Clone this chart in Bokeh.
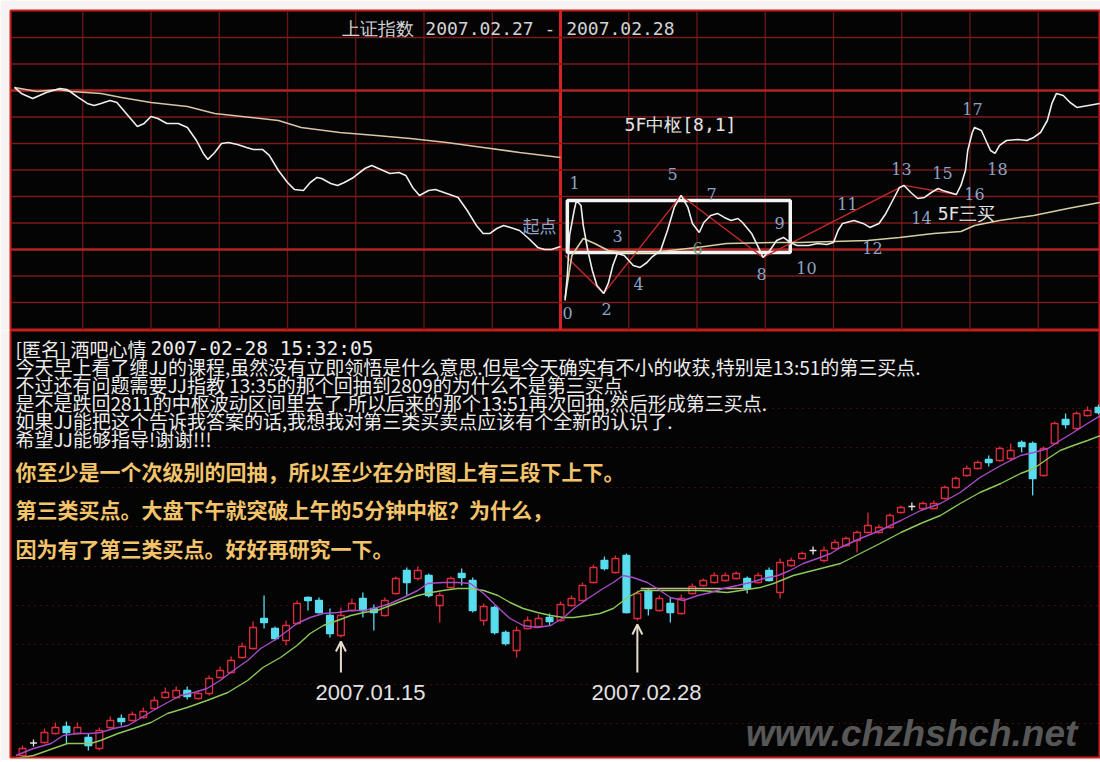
from bokeh.plotting import figure
from bokeh.layouts import column
from bokeh.models import Range1d, Span, Arrow, OpenHead
from bokeh.core.properties import value
from bokeh.embed import file_html
from bokeh.resources import INLINE

# ---------------- intraday data (minutes from 02.27 09:30, index points) ----------------
d1_min = [0, 3, 8, 11, 14, 20, 23, 25, 28, 32, 35, 38, 42, 45, 48, 51, 54, 57, 60, 63,
          67, 72, 76, 80, 83, 85, 88, 91, 94, 98, 102, 105, 109, 112, 116, 120, 123, 127, 130, 133,
          135, 139, 142, 145, 149, 154, 157, 160, 165, 169, 172, 175, 178, 182, 185, 190, 195, 199, 203, 206,
          209, 212, 215, 218, 222, 226, 230, 233, 236, 240]
d1_price = [2895.8, 2891.3, 2887.5, 2889.8, 2892.0, 2895.0, 2894.3, 2892.0, 2888.3, 2883.8,
            2882.3, 2883.8, 2886.0, 2884.5, 2878.5, 2872.5, 2866.5, 2868.8, 2874.0, 2872.5,
            2868.8, 2868.8, 2865.8, 2856.0, 2846.3, 2841.8, 2847.0, 2853.8, 2854.5, 2853.0,
            2850.8, 2849.3, 2849.3, 2844.8, 2833.5, 2824.5, 2819.3, 2818.5, 2824.5, 2828.3,
            2827.5, 2823.8, 2822.3, 2824.5, 2828.3, 2835.0, 2837.3, 2835.0, 2831.3, 2832.0,
            2829.8, 2820.8, 2814.8, 2818.5, 2819.3, 2816.3, 2813.3, 2803.5, 2792.3, 2786.3,
            2786.3, 2790.0, 2792.3, 2790.8, 2788.5, 2782.5, 2775.8, 2774.3, 2774.3, 2776.5]
d1_avg_min = [0, 10, 19, 25, 38, 47, 60, 76, 88, 104, 116, 126, 143, 159, 174, 190, 206, 222, 240]
d1_avg = [2895.8, 2892.8, 2894.3, 2892.8, 2891.3, 2888.3, 2884.5, 2881.5, 2876.3, 2873.3,
          2871.0, 2865.8, 2862.0, 2859.8, 2857.5, 2854.5, 2850.8, 2847.0, 2843.3]

d2_min = [242, 243, 244, 246, 247, 249, 250, 252, 254, 256, 259, 261, 263, 265, 268, 270, 272, 275, 278, 280,
          284, 287, 290, 293, 296, 298, 301, 303, 306, 309, 312, 315, 318, 320, 324, 327, 329, 332, 335, 338,
          341, 344, 349, 353, 357, 360, 362, 364, 369, 373, 376, 380, 383, 386, 389, 391, 394, 397, 400, 403,
          406, 408, 411, 414, 416, 418, 419, 421, 422, 425, 427, 429, 431, 433, 436, 441, 445, 448, 451, 454,
          456, 458, 461, 464, 467, 472, 477]
d2_price = [2736.0, 2754.8, 2784.8, 2803.5, 2811.0, 2807.3, 2792.3, 2773.5, 2758.5, 2747.3,
            2741.3, 2748.8, 2762.3, 2771.3, 2769.8, 2766.0, 2762.3, 2760.8, 2764.5, 2768.3,
            2773.5, 2788.5, 2805.8, 2814.8, 2805.8, 2793.8, 2787.0, 2794.5, 2799.8, 2801.3,
            2798.3, 2796.0, 2797.5, 2794.5, 2786.3, 2775.8, 2768.3, 2773.5, 2781.0, 2783.3,
            2779.5, 2777.3, 2777.3, 2778.8, 2778.0, 2779.5, 2788.5, 2793.8, 2796.0, 2793.8,
            2790.8, 2793.8, 2801.3, 2811.0, 2820.8, 2822.3, 2817.0, 2812.5, 2813.3, 2817.0,
            2820.0, 2818.5, 2817.0, 2815.5, 2822.3, 2833.5, 2848.5, 2862.0, 2865.8, 2863.5,
            2856.0, 2848.5, 2846.3, 2852.3, 2856.0, 2856.8, 2856.0, 2858.3, 2862.0, 2871.0,
            2883.8, 2891.3, 2889.8, 2884.5, 2880.8, 2882.3, 2883.8]
d2_avg_min = [242, 245, 250, 255, 261, 269, 280, 300, 313, 334, 345, 360, 375, 389, 404, 416, 422, 433, 448, 463, 477]
d2_avg = [2737.5, 2769.8, 2782.5, 2778.8, 2773.5, 2772.0, 2772.0, 2775.8, 2778.8, 2779.5,
          2779.5, 2780.3, 2781.0, 2783.3, 2786.3, 2787.8, 2792.3, 2796.0, 2799.8, 2805.0, 2809.5]

# pen (zigzag) vertices: 起点, 2, 5, 8, 13, 16
pen_min = [242, 259, 293, 329, 391, 414]
pen_price = [2770.0, 2741.3, 2814.8, 2768.3, 2822.3, 2815.5]

# 5F 中枢 box
zs_start, zs_end = 243, 341
zs_low, zs_high = 2772.0, 2811.0

point_labels = ["0", "1", "2", "3", "4", "5", "6", "7", "8", "9", "10",
                "11", "12", "13", "14", "15", "16", "17", "18"]

# ---------------- daily candles (index points) ----------------
O = [1932, 2007, 2010, 2064, 2106, 2064, 2040, 1974, 2100, 2154,
     2142, 2160, 2214, 2280, 2280, 2322, 2274, 2304, 2400, 2430,
     2520, 2574, 2754, 2694, 2622, 2724, 2880, 2862, 2772, 2652,
     2802, 2874, 2814, 2772, 2904, 3042, 2994, 3012, 2832, 2940,
     3024, 2982, 2742, 2820, 2670, 2562, 2694, 2706, 2760, 2742,
     2832, 2862, 2970, 3102, 3030, 3132, 2754, 2922, 2802, 2844,
     2784, 2904, 2952, 2970, 2982, 2994, 2994, 2970, 3042, 2910,
     3072, 3114, 3162, 3102, 3174, 3192, 3222, 3270, 3270, 3300,
     3390, 3426, 3414, 3414, 3474, 3540, 3612, 3654, 3708, 3702,
     3714, 3810, 3804, 3612, 3804, 3948, 3894, 3972, 4020]
H = [1992, 2028, 2094, 2130, 2136, 2130, 2064, 2100, 2166, 2178,
     2196, 2220, 2286, 2340, 2346, 2346, 2322, 2412, 2466, 2526,
     2610, 2736, 2892, 2706, 2742, 2862, 2886, 2880, 2814, 2820,
     2874, 2910, 2838, 2880, 3006, 3060, 3066, 3024, 2910, 3006,
     3054, 3000, 2844, 2832, 2682, 2706, 2766, 2778, 2784, 2856,
     2892, 2970, 3078, 3126, 3132, 3144, 2922, 2934, 2892, 2880,
     2898, 2964, 2994, 3030, 3030, 3036, 3006, 3030, 3060, 3114,
     3120, 3156, 3186, 3186, 3228, 3246, 3282, 3390, 3318, 3384,
     3432, 3450, 3456, 3462, 3552, 3606, 3672, 3702, 3732, 3786,
     3804, 3822, 3816, 3786, 3936, 3984, 3996, 4026, 4038]
L = [1920, 1986, 2004, 2058, 2004, 2058, 1962, 1962, 2094, 2112,
     2136, 2154, 2208, 2274, 2274, 2268, 2268, 2292, 2394, 2424,
     2514, 2568, 2694, 2622, 2592, 2718, 2802, 2784, 2640, 2640,
     2796, 2760, 2682, 2766, 2898, 2892, 2982, 2880, 2730, 2934,
     2952, 2790, 2712, 2658, 2592, 2520, 2688, 2700, 2712, 2736,
     2826, 2856, 2964, 3042, 3024, 2784, 2742, 2772, 2796, 2730,
     2778, 2898, 2946, 2964, 2976, 2988, 2904, 2964, 2976, 2874,
     3066, 3108, 3138, 3090, 3168, 3186, 3150, 3264, 3264, 3294,
     3384, 3402, 3408, 3408, 3468, 3534, 3606, 3648, 3666, 3696,
     3702, 3750, 3492, 3606, 3798, 3894, 3882, 3966, 3978]
C = [1974, 2007, 2070, 2100, 2070, 2100, 1992, 2082, 2142, 2136,
     2178, 2196, 2262, 2310, 2322, 2286, 2304, 2394, 2442, 2502,
     2586, 2700, 2730, 2634, 2712, 2844, 2862, 2790, 2664, 2772,
     2844, 2802, 2790, 2862, 2994, 2970, 3042, 2892, 2892, 2994,
     3000, 2802, 2826, 2670, 2604, 2682, 2742, 2754, 2736, 2838,
     2874, 2952, 3060, 3054, 3114, 2790, 2904, 2814, 2874, 2790,
     2874, 2946, 2982, 3012, 3012, 3024, 2934, 3012, 2982, 3090,
     3102, 3144, 3162, 3162, 3210, 3234, 3270, 3312, 3300, 3372,
     3420, 3426, 3444, 3444, 3540, 3594, 3654, 3690, 3690, 3774,
     3762, 3786, 3594, 3774, 3924, 3918, 3984, 4002, 3990]

ma_short_x = [-0.6, 1.0, 2.6, 3.7, 5.0, 6.2, 7.1, 8.3, 9.6, 10.7, 11.9, 13.2, 14.4, 15.6, 16.8, 18.0,
              19.2, 20.5, 21.7, 22.9, 23.8, 25.0, 26.2, 27.4, 28.7, 29.9, 31.1, 32.3, 33.5, 34.7, 36.0,
              36.9, 38.3, 39.6, 40.8, 42.0, 43.3, 44.4, 45.6, 46.9, 48.1, 49.3, 50.2, 51.5, 52.6, 53.8,
              54.7, 55.6, 56.9, 57.8, 59.0, 60.2, 61.5, 62.7, 63.8, 65.1, 66.3, 67.5, 68.8, 69.9, 71.1,
              72.4, 73.6, 74.5, 76.3, 78.1, 80.0, 81.8, 83.6, 85.4, 87.2, 89.1, 90.9, 92.1, 93.4, 94.5,
              95.7, 97.0, 98.2]
ma_short = [1932, 1974, 2004, 2052, 2064, 2064, 2070, 2094, 2112, 2154, 2202, 2250, 2292, 2310, 2334, 2382,
            2442, 2502, 2574, 2622, 2664, 2724, 2760, 2784, 2790, 2802, 2802, 2820, 2844, 2880, 2922,
            2964, 2970, 2970, 2964, 2904, 2820, 2754, 2712, 2700, 2712, 2760, 2814, 2874, 2922, 2970,
            3012, 3000, 2970, 2934, 2880, 2862, 2892, 2910, 2934, 2952, 2970, 2994, 3012, 3042, 3084,
            3114, 3144, 3180, 3234, 3282, 3342, 3402, 3444, 3510, 3600, 3672, 3732, 3750, 3774, 3822,
            3870, 3924, 3972]
ma_long_x = [-0.6, 1.0, 2.8, 4.1, 5.3, 6.2, 7.1, 8.7, 10.1, 11.7, 13.2, 15.0, 16.8, 18.7, 20.5, 21.9,
             23.5, 25.0, 26.2, 27.4, 28.7, 29.9, 31.1, 32.3, 33.5, 34.7, 36.0, 37.2, 38.3, 39.6, 40.8,
             42.0, 43.3, 44.4, 45.6, 46.9, 48.1, 49.3, 50.2, 51.5, 52.6, 53.8, 55.1, 56.3, 58.7, 61.7,
             64.2, 65.4, 67.2, 68.4, 70.2, 72.0, 74.5, 76.3, 78.1, 80.0, 81.8, 83.6, 85.4, 87.2, 89.1,
             90.9, 92.1, 93.4, 94.5, 95.7, 97.0, 98.2]
ma_long = [1914, 1932, 1974, 2004, 2004, 2004, 2022, 2064, 2094, 2130, 2184, 2220, 2262, 2310, 2382, 2460,
           2520, 2592, 2664, 2712, 2742, 2772, 2790, 2802, 2832, 2862, 2892, 2910, 2922, 2934, 2934,
           2922, 2892, 2850, 2814, 2790, 2772, 2760, 2760, 2772, 2784, 2814, 2880, 2922, 2922, 2922,
           2910, 2922, 2940, 2964, 3012, 3042, 3084, 3144, 3204, 3270, 3324, 3372, 3444, 3510, 3564,
           3624, 3654, 3714, 3762, 3792, 3822, 3852]
ma_flat_x = [56.3, 65.8]
ma_flat = [2934, 2934]

ann_idx = [29, 56]
ann_text = ["2007.01.15", "2007.02.28"]

white_lines = [
    "今天早上看了缠JJ的课程,虽然没有立即领悟是什么意思.但是今天确实有不小的收获,特别是13:51的第三买点.",
    "不过还有问题需要JJ指教 13:35的那个回抽到2809的为什么不是第三买点.",
    "是不是跌回2811的中枢波动区间里去了.所以后来的那个13:51再次回抽,然后形成第三买点.",
    "如果JJ能把这个告诉我答案的话,我想我对第三类买卖点应该有个全新的认识了.",
    "希望JJ能够指导!谢谢!!!",
]
orange_lines = [
    "你至少是一个次级别的回抽，所以至少在分时图上有三段下上下。",
    "第三类买点。大盘下午就突破上午的5分钟中枢？为什么，",
    "因为有了第三类买点。好好再研究一下。",
]

# ---------------- layout geometry (page pixels) ----------------
PAGE_W = 1100
FX0 = 10                      # frame left edge
FW = PAGE_W - FX0             # frame width
TOP_FY0, TOP_FY1 = 10, 330    # top frame vertical extent
BOT_FY0, BOT_FY1 = 330, 757   # bottom frame vertical extent
BOT_H = 430

TX0, TX1 = -1.758, 477.36
TY0, TY1 = 2713.5, 2953.5
BX0, BX1 = -1.093, 98.18
BY0, BY1 = 1920.0, 4482.0


def tx(px):
    return TX0 + (px - FX0) * (TX1 - TX0) / FW


def ty(py):
    return TY1 - (py - TOP_FY0) * (TY1 - TY0) / (TOP_FY1 - TOP_FY0)


def bx(px):
    return BX0 + (px - FX0) * (BX1 - BX0) / FW


def by(py):
    return BY1 - (py - BOT_FY0) * (BY1 - BY0) / (BOT_FY1 - BOT_FY0)


def make_fig(h, xr, yr, **borders):
    p = figure(width=PAGE_W, height=h, x_range=Range1d(*xr), y_range=Range1d(*yr),
               output_backend="svg", toolbar_location=None,
               x_axis_location=None, y_axis_location=None,
               background_fill_color="#040404", border_fill_color="#f7f3f3", **borders)
    p.grid.visible = False
    p.outline_line_color = "#c81e1e"
    p.outline_line_width = 2
    return p


# ================= TOP PANEL =================
top = make_fig(TOP_FY1, (TX0, TX1), (TY0, TY1),
               min_border_left=FX0, min_border_top=TOP_FY0, min_border_right=0, min_border_bottom=0)
for k in range(1, 16):
    if k == 8:
        top.add_layout(Span(location=30 * k, dimension="height", line_color="#d42222",
                            line_width=3, level="underlay"))
    else:
        top.add_layout(Span(location=30 * k, dimension="height", line_color="#6e1616",
                            line_width=1.3, level="underlay"))
for k in range(1, 12):
    lv = 2953.125 - 19.875 * k
    thick = k in (3, 9)
    top.add_layout(Span(location=lv, dimension="width",
                        line_color="#b02424" if thick else "#7e1a1a",
                        line_width=2.6 if thick else 1.5, level="underlay"))

top.quad(left=[zs_start], right=[zs_end], bottom=[zs_low], top=[zs_high],
         fill_alpha=0, line_color="#f4f4f4", line_width=3.5)
top.line(pen_min, pen_price, line_color="#c42828", line_width=1.4)
top.line(d1_avg_min, d1_avg, line_color="#d8c4a4", line_width=1.6)
top.line(d2_avg_min, d2_avg, line_color="#d4d0a4", line_width=1.6)
top.line(d1_min, d1_price, line_color="#eeeeee", line_width=1.6)
top.line(d2_min, d2_price, line_color="#eeeeee", line_width=1.6)

lab_px = [567, 574, 606, 617, 638, 672, 697, 711, 761, 779, 806, 847, 872, 901, 921, 942, 974, 972, 997]
lab_py = [312, 182, 308, 235, 283, 173, 247, 193, 273, 222, 267, 203, 247, 168, 217, 172, 193, 108, 168]
lab_col = ["#8ca4c6"] * len(point_labels)
lab_col[6] = "#6f9a7c"
top.text(x=[tx(v) for v in lab_px], y=[ty(v) for v in lab_py], text=point_labels,
         text_color=lab_col, text_font=value("DejaVu Serif"), text_font_size="16px",
         text_align="center", text_baseline="middle")
top.text(x=[tx(539)], y=[ty(225)], text=["起点"], text_color="#8ca4c6",
         text_font=value("Noto Sans CJK SC"), text_font_size="17px",
         text_align="center", text_baseline="middle")
top.text(x=[tx(508)], y=[ty(28)], text=["上证指数 2007.02.27 - 2007.02.28"], text_color="#d4d4d4",
         text_font=value("DejaVu Sans Mono"), text_font_size="18px",
         text_align="center", text_baseline="middle")
top.text(x=[tx(680), tx(966)], y=[ty(124), ty(213)], text=["5F中枢[8,1]", "5F三买"],
         text_color="#e4e4e4", text_font=value("DejaVu Sans Mono"), text_font_size="18px",
         text_align="center", text_baseline="middle")

# ================= BOTTOM PANEL =================
bot = make_fig(BOT_H, (BX0, BX1), (BY0, BY1),
               min_border_left=FX0, min_border_top=0, min_border_right=0,
               min_border_bottom=BOT_FY0 + BOT_H - BOT_FY1)
for py in [408, 447, 487, 526, 566, 605, 644, 684, 723]:
    bot.add_layout(Span(location=by(py), dimension="width", line_color="#7a1616",
                        line_dash="1 5", line_width=1.2, level="underlay"))

RED, CYAN, WHITE = "#de2c3c", "#58dcee", "#e6e6e6"
idx = list(range(len(O)))
cols = [RED if c > o else (WHITE if c == o else CYAN) for o, c in zip(O, C)]
fills = ["#040404" if c > o else col for o, c, col in zip(O, C, cols)]
bot.segment(x0=idx, y0=H, x1=idx, y1=L, line_color=cols, line_width=1.3)
bot.vbar(x=idx, top=[max(o, c) for o, c in zip(O, C)], bottom=[min(o, c) for o, c in zip(O, C)],
         width=0.62, fill_color=fills, line_color=cols, line_width=1.3)

bot.line(ma_flat_x, ma_flat, line_color="#c8b68a", line_width=1.4)
bot.line(ma_long_x, ma_long, line_color="#8cc85a", line_width=1.4)
bot.line(ma_short_x, ma_short, line_color="#a64cc8", line_width=1.4)

ARROW_C = "#e6dccb"
for i, lbl, lx in zip(ann_idx, ann_text, [370, 646]):
    bot.add_layout(Arrow(end=OpenHead(size=10, line_color=ARROW_C, line_width=2),
                         x_start=i, y_start=by(672), x_end=i, y_end=L[i] - 24,
                         line_color=ARROW_C, line_width=2))
    bot.text(x=[bx(lx)], y=[by(692)], text=[lbl], text_color="#e2e2e2",
             text_font=value("Liberation Sans"), text_font_size="22px",
             text_align="center", text_baseline="middle")

bot.text(x=[bx(911)], y=[by(733)], text=["www.chzhshch.net"], text_color="#575757",
         text_font=value("Liberation Sans"), text_font_style="bold italic", text_font_size="37px",
         text_align="center", text_baseline="middle")

bot.text(x=[bx(15)], y=[by(348)], text=["[匿名] 酒吧心情"], text_color="#ececec",
         text_font=value("Noto Sans CJK SC"), text_font_size="19px",
         text_align="left", text_baseline="middle")
bot.text(x=[bx(150)], y=[by(348)], text=["2007-02-28 15:32:05"], text_color="#ececec",
         text_font=value("DejaVu Sans Mono"), text_font_size="19.5px",
         text_align="left", text_baseline="middle")
bot.text(x=[bx(15)] * len(white_lines), y=[by(v) for v in [366, 384, 402, 420, 438]],
         text=white_lines, text_color="#ececec",
         text_font=value("Noto Sans CJK SC"), text_font_size="19px",
         text_align="left", text_baseline="middle")
bot.text(x=[bx(15)] * len(orange_lines), y=[by(v) for v in [470, 508, 547]],
         text=orange_lines, text_color="#f3c46c",
         text_font=value("Noto Sans CJK SC"), text_font_style="bold", text_font_size="21px",
         text_align="left", text_baseline="middle")

layout = column(top, bot, spacing=0)
with open("out.html", "w") as f:
    f.write(file_html(layout, INLINE, title="上证指数 2007.02.27 - 2007.02.28"))
